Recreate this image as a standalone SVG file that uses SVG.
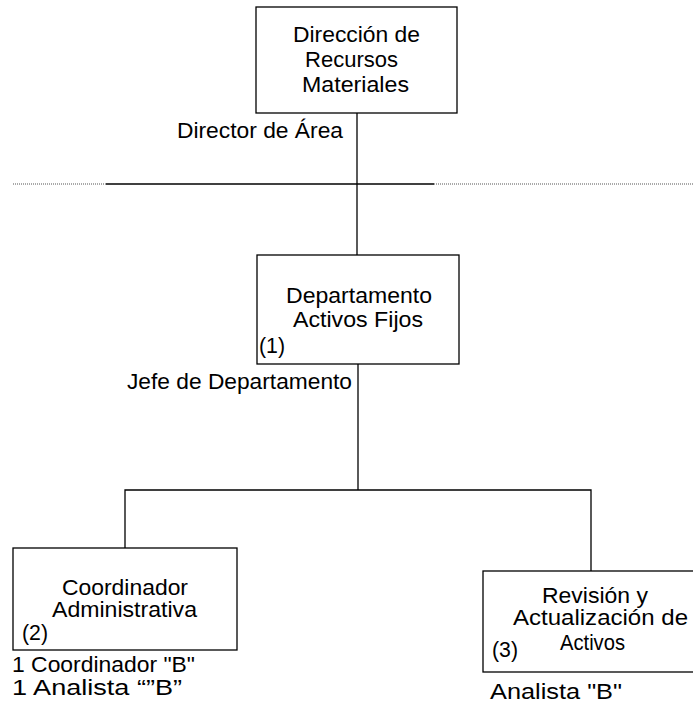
<svg xmlns="http://www.w3.org/2000/svg" width="693" height="702" viewBox="0 0 693 702">
<style>
.box{fill:#fff;stroke:#000;stroke-width:1.3}
.ln{stroke:#000;stroke-width:1.3;fill:none}
.dot{stroke:#555;stroke-width:1.2;stroke-dasharray:1 1;fill:none}
text{font-family:"Liberation Sans",Arial,sans-serif;font-size:22.5px;fill:#000}
</style>
<rect width="693" height="702" fill="#fff"/>
<g id="connectors">
<line class="dot" x1="13" y1="184" x2="106" y2="184"/>
<line class="ln" x1="106" y1="184" x2="434" y2="184"/>
<line class="dot" x1="434" y1="184" x2="693" y2="184"/>
<line class="ln" x1="357" y1="113" x2="357" y2="255"/>
<line class="ln" x1="358" y1="364" x2="358" y2="490"/>
<polyline class="ln" points="125,548 125,490 591,490 591,571"/>
</g>
<g id="direccion">
<rect class="box" x="256" y="7" width="201" height="106"/>
<text x="293" y="42" textLength="127" lengthAdjust="spacingAndGlyphs">Dirección de</text>
<text x="305" y="67" textLength="93" lengthAdjust="spacingAndGlyphs">Recursos</text>
<text x="302" y="92" textLength="107" lengthAdjust="spacingAndGlyphs">Materiales</text>
<text x="177" y="138" textLength="166" lengthAdjust="spacingAndGlyphs">Director de Área</text>
</g>
<g id="departamento">
<rect class="box" x="257" y="255" width="202" height="109"/>
<text x="286" y="303" textLength="146" lengthAdjust="spacingAndGlyphs">Departamento</text>
<text x="293" y="327" textLength="130" lengthAdjust="spacingAndGlyphs">Activos Fijos</text>
<text x="259" y="353" textLength="26" lengthAdjust="spacingAndGlyphs">(1)</text>
<text x="127" y="389" textLength="225" lengthAdjust="spacingAndGlyphs">Jefe de Departamento</text>
</g>
<g id="coordinador">
<rect class="box" x="13" y="548" width="224" height="102"/>
<text x="62" y="595" textLength="126" lengthAdjust="spacingAndGlyphs">Coordinador</text>
<text x="52" y="617" textLength="145" lengthAdjust="spacingAndGlyphs">Administrativa</text>
<text x="22" y="640" textLength="26" lengthAdjust="spacingAndGlyphs">(2)</text>
<text x="12" y="672" textLength="183" lengthAdjust="spacingAndGlyphs">1 Coordinador "B"</text>
<text x="12" y="695" textLength="170" lengthAdjust="spacingAndGlyphs">1 Analista “”B”</text>
</g>
<g id="revision">
<rect class="box" x="483" y="571" width="230" height="101"/>
<text x="542" y="603" textLength="106" lengthAdjust="spacingAndGlyphs">Revisión y</text>
<text x="513" y="625" textLength="175" lengthAdjust="spacingAndGlyphs">Actualización de</text>
<text x="560" y="650" textLength="65" lengthAdjust="spacingAndGlyphs">Activos</text>
<text x="492" y="657" textLength="26" lengthAdjust="spacingAndGlyphs">(3)</text>
<text x="490" y="699" textLength="132" lengthAdjust="spacingAndGlyphs">Analista "B"</text>
</g>
</svg>
